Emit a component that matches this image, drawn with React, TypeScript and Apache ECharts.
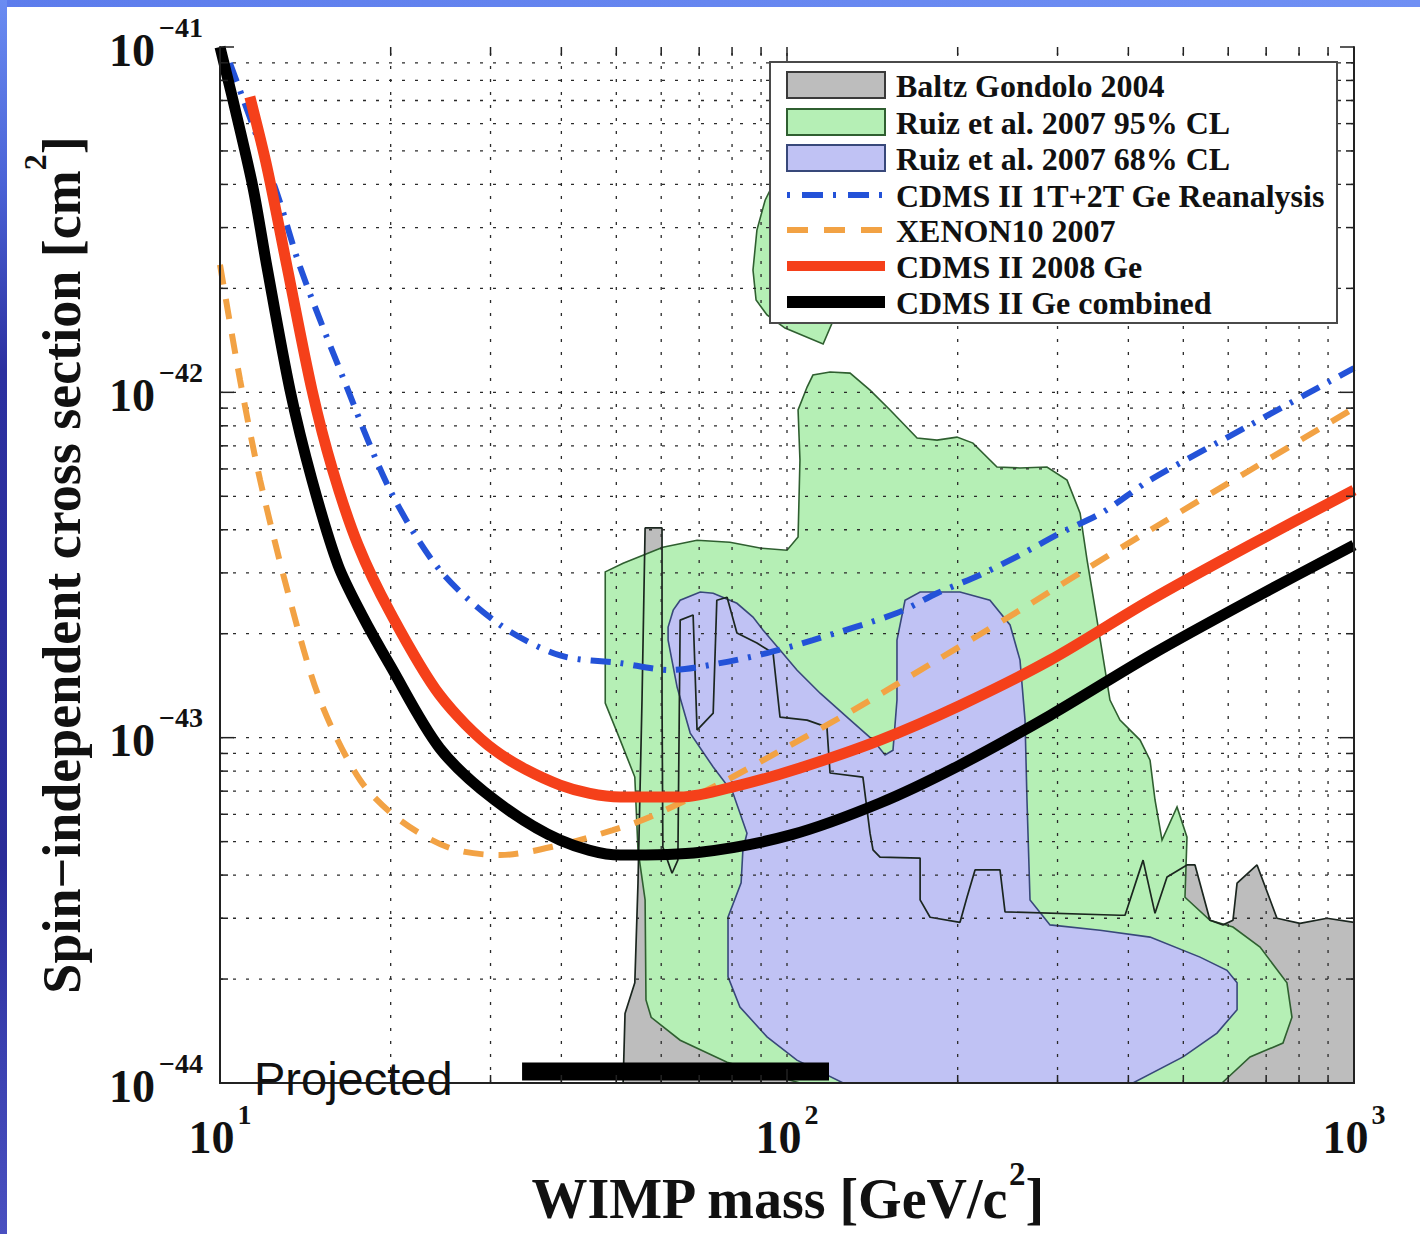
import React, { useEffect, useRef } from 'react';
import * as echarts from 'echarts';

const SERIF = '"Liberation Serif", "Times New Roman", serif';
const SANS = '"Liberation Sans", Arial, sans-serif';

const X_MIN = 10;
const X_MAX = 1000;
const Y_MIN = 1e-44;
const Y_MAX = 1e-41;

const xMajorTicks = [10, 100, 1000];
const xMinorTicks = [20, 30, 40, 50, 60, 70, 80, 90, 200, 300, 400, 500, 600, 700, 800, 900];
const yMajorTicks = [1e-44, 1e-43, 1e-42, 1e-41];
const yMinorTicks = [
  2e-44, 3e-44, 4e-44, 5e-44, 6e-44, 7e-44, 8e-44, 9e-44,
  2e-43, 3e-43, 4e-43, 5e-43, 6e-43, 7e-43, 8e-43, 9e-43,
  2e-42, 3e-42, 4e-42, 5e-42, 6e-42, 7e-42, 8e-42, 9e-42,
];
const yTickExponents = ['\u221244', '\u221243', '\u221242', '\u221241'];

const legendLabels = [
  'Baltz Gondolo 2004',
  'Ruiz et al. 2007 95% CL',
  'Ruiz et al. 2007 68% CL',
  'CDMS II 1T+2T Ge Reanalysis',
  'XENON10 2007',
  'CDMS II 2008 Ge',
  'CDMS II Ge combined',
];

// [WIMP mass (GeV/c^2), cross section (cm^2)]
const cdmsCombined = [
  [10, 1e-41], [10.54, 7.02e-42], [11.43, 3.93e-42], [12.1, 2.31e-42], [13.29, 1.015e-42],
  [14.53, 5.57e-43], [16.15, 3.16e-43], [17.8, 2.265e-43], [19.95, 1.62e-43], [24.4, 9.33e-44],
  [30.5, 6.6e-44], [39.8, 5.05e-44], [50.8, 4.57e-44], [70.3, 4.66e-44], [101.2, 5.22e-44],
  [145.9, 6.47e-44], [201.9, 8.33e-44], [291, 1.16e-43], [436.8, 1.73e-43], [655.6, 2.5e-43],
  [1000, 3.61e-43],
];
const cdms2008 = [
  [11.29, 7.17e-42], [12.1, 4.49e-42], [13.13, 2.31e-42], [14.53, 1.015e-42], [15.8, 5.96e-43],
  [17.52, 3.61e-43], [19.95, 2.31e-43], [24.4, 1.33e-43], [30.5, 9.2e-44], [39.8, 7.29e-44],
  [50.8, 6.73e-44], [64.8, 6.73e-44], [82.6, 7.29e-44], [105.4, 8.17e-44], [145.9, 9.84e-44],
  [201.9, 1.24e-43], [291, 1.677e-43], [436.8, 2.5e-43], [655.6, 3.61e-43], [1000, 5.21e-43],
];
const cdmsReanalysis = [
  [10.41, 8.99e-42], [12.6, 3.78e-42], [13.84, 2.31e-42], [16.28, 1.16e-42], [19.95, 5.21e-43],
  [24.4, 3.06e-43], [31.2, 2.12e-43], [39.8, 1.73e-43], [50.8, 1.644e-43], [62.2, 1.57e-43],
  [76.2, 1.644e-43], [92.2, 1.758e-43], [111.1, 1.917e-43], [156.3, 2.296e-43], [183.9, 2.62e-43],
  [218.9, 2.96e-43], [257.6, 3.38e-43], [303, 3.91e-43], [360.8, 4.5e-43], [436.8, 5.57e-43],
  [655.6, 8.04e-43], [1000, 1.176e-42],
];
const xenon10 = [
  [10, 2.34e-42], [10.85, 1.085e-42], [11.77, 5.57e-43], [13.29, 2.5e-43], [15.01, 1.285e-43],
  [17.66, 7.54e-44], [20.77, 5.77e-44], [25.44, 4.79e-44], [31.2, 4.57e-44], [39.8, 4.89e-44],
  [49.3, 5.4e-44], [57.3, 5.89e-44], [77.1, 7.44e-44], [100, 9.4e-44], [130.7, 1.2e-43],
  [150.1, 1.373e-43], [183.9, 1.677e-43], [257.6, 2.34e-43], [328.8, 3.0e-43], [436.8, 3.99e-43],
  [655.6, 5.95e-43], [1000, 9.0e-43],
];
const baltzGondoloEdge = [
  [51.4, 1.0e-44], [51.8, 1.59e-44], [53.9, 1.95e-44], [54.6, 3.79e-44], [55.5, 1.285e-43],
  [56.2, 4.05e-43], [60.2, 4.05e-43], [60.2, 1.285e-43], [60.4, 4.82e-44], [62.7, 4.05e-44],
  [64.2, 4.42e-44], [64.8, 2.19e-43], [68.3, 2.265e-43], [69.4, 1.052e-43], [74.1, 1.178e-43],
  [75.2, 2.5e-43], [78.4, 2.55e-43], [81.6, 2.01e-43], [88.5, 1.88e-43], [94.5, 1.758e-43],
  [97.2, 1.147e-43], [108.5, 1.124e-43], [117.6, 1.073e-43], [119.1, 7.9e-44], [136.1, 7.69e-44],
  [140.1, 5.29e-44], [141.8, 4.73e-44], [145.9, 4.51e-44], [171.7, 4.48e-44], [171.7, 3.39e-44],
  [178.8, 3.02e-44], [201.9, 2.92e-44], [207.7, 3.45e-44], [214.6, 4.14e-44], [237.5, 4.14e-44],
  [242.4, 3.13e-44], [386.6, 3.06e-44], [394.6, 3.06e-44], [424.6, 4.42e-44], [445.7, 3.1e-44],
  [468, 3.95e-44], [507.5, 4.28e-44], [524.3, 4.28e-44], [557.2, 2.96e-44], [587.5, 2.87e-44],
  [611.7, 2.96e-44], [622, 3.79e-44], [674.5, 4.28e-44], [731.4, 3.0e-44], [803, 2.9e-44],
  [896.2, 3.0e-44], [1000, 2.92e-44],
];
const ruiz95Main = [
  [47.8, 3.02e-43], [51.4, 3.2e-43], [60.4, 3.56e-43], [69.4, 3.73e-43], [79.3, 3.68e-43],
  [89.6, 3.54e-43], [100, 3.49e-43], [104.6, 3.81e-43], [105.4, 6.37e-43], [104.6, 8.89e-43],
  [108.5, 1.036e-42], [111.1, 1.122e-42], [119.1, 1.145e-42], [129.2, 1.137e-42], [140.1, 1.015e-42],
  [152, 8.89e-43], [169.6, 7.37e-43], [183.9, 7.27e-43], [199.4, 7.42e-43], [212.8, 7.13e-43],
  [234.6, 6.08e-43], [257.6, 6.04e-43], [287.4, 6.08e-43], [311.8, 5.57e-43], [328.8, 4.47e-43],
  [338.2, 3.27e-43], [352.2, 2.19e-43], [371.2, 1.285e-43], [386.6, 1.124e-43], [419.5, 9.84e-44],
  [436.8, 8.61e-44], [445.7, 6.6e-44], [458.6, 5.05e-44], [487.4, 6.3e-44], [507.5, 5.15e-44],
  [503.4, 3.45e-44], [557.2, 2.96e-44], [611.7, 2.83e-44], [682.8, 2.475e-44], [761.6, 1.95e-44],
  [777.3, 1.55e-44], [749.4, 1.305e-44], [655.6, 1.19e-44], [585, 1.0e-44], [105.4, 1.0e-44],
  [78.4, 1.149e-44], [64.8, 1.33e-44], [57.6, 1.55e-44], [56.4, 1.74e-44], [56.2, 3.39e-44],
  [54.6, 4.73e-44], [53.9, 7.69e-44], [50.8, 9.84e-44], [47.8, 1.26e-43],
];
const ruiz95Upper = [
  [95.3, 4.12e-42], [91.5, 3.6e-42], [88.5, 2.95e-42], [87.1, 2.26e-42], [88.2, 1.85e-42],
  [92.2, 1.675e-42], [99.2, 1.535e-42], [115.8, 1.38e-42], [120.1, 1.587e-42], [124.1, 1.98e-42],
  [105.4, 3.6e-42], [100, 4.12e-42],
];
const ruiz68 = [
  [61.7, 2.09e-43], [63.0, 2.34e-43], [64.8, 2.5e-43], [70.3, 2.64e-43], [74.1, 2.62e-43],
  [81.6, 2.45e-43], [87.1, 2.235e-43], [90.7, 2.05e-43], [97.2, 1.793e-43], [104.1, 1.57e-43],
  [114.4, 1.345e-43], [127.6, 1.147e-43], [141.8, 9.84e-44], [148.9, 8.91e-44], [153.8, 9.2e-44],
  [156.3, 1.285e-43], [156.3, 1.917e-43], [161.5, 2.5e-43], [171.7, 2.64e-43], [201.9, 2.64e-43],
  [228, 2.5e-43], [247.4, 2.12e-43], [257.6, 1.677e-43], [262.9, 1.124e-43], [265, 6.6e-44],
  [268.3, 3.39e-44], [291, 2.87e-44], [356.5, 2.77e-44], [436.8, 2.645e-44], [535.1, 2.315e-44],
  [597, 2.12e-44], [622, 1.95e-44], [622, 1.63e-44], [573.3, 1.395e-44], [499.4, 1.19e-44],
  [407.5, 1.0e-44], [125.6, 1.0e-44], [104.1, 1.165e-44], [92.2, 1.36e-44], [82.6, 1.66e-44],
  [78.7, 2.03e-44], [78.7, 3.02e-44], [83, 3.8e-44], [83.6, 4.73e-44], [85.0, 5.29e-44],
  [80.3, 6.91e-44], [74.1, 8.22e-44], [67.5, 1.031e-43], [64.0, 1.401e-43], [61.7, 1.917e-43],
];
const projectedRange = [[34.1, 1.08e-44], [118.6, 1.08e-44]];

const GRAY_FILL = '#bdbdbd';
const GREEN_FILL = '#b5efb5';
const GREEN_EDGE = '#2f5f30';
const BLUE_FILL = '#c0c2f4';
const BLUE_EDGE = '#38487a';
const C_BLUE = '#2352d8';
const C_ORANGE = '#f2a244';
const C_RED = '#f5401a';
const C_BLACK = '#000000';
const DASHDOT = [20, 10, 3, 10];
const DASH = [20, 15];

function expLabel(v: number) {
  const e = Math.round(Math.log10(v));
  const s = e < 0 ? '\u2212' + Math.abs(e) : String(e);
  return '{b|10}{s|' + s + '}';
}

const labelRich = {
  b: { fontFamily: SERIF, fontWeight: 'bold', fontSize: 46, color: '#111', lineHeight: 60, verticalAlign: 'bottom' },
  s: { fontFamily: SERIF, fontWeight: 'bold', fontSize: 28, color: '#111', verticalAlign: 'top', padding: [0, 0, 0, 3] },
};
const xNameRich = {
  t: { fontFamily: SERIF, fontWeight: 'bold', fontSize: 56, fill: '#111', color: '#111', lineHeight: 70, verticalAlign: 'bottom' },
  s: { fontFamily: SERIF, fontWeight: 'bold', fontSize: 33, fill: '#111', color: '#111', verticalAlign: 'top' },
};
const yNameRich = {
  t: { fontFamily: SERIF, fontWeight: 'bold', fontSize: 54, fill: '#111', color: '#111', lineHeight: 70, verticalAlign: 'bottom' },
  s: { fontFamily: SERIF, fontWeight: 'bold', fontSize: 32, fill: '#111', color: '#111', verticalAlign: 'top' },
};

function regionSeries(name: string, polys: number[][][], fill: string, stroke: string | null, z: number) {
  return {
    type: 'custom',
    name,
    z,
    silent: true,
    coordinateSystem: 'cartesian2d',
    data: [polys[0][0]],
    renderItem: (_p: any, api: any) => ({
      type: 'group',
      children: polys.map((poly) => ({
        type: 'polygon',
        shape: { points: poly.map((pt) => api.coord(pt)) },
        style: stroke ? { fill, stroke, lineWidth: 1.6 } : { fill, lineWidth: 0 },
      })),
    }),
  };
}

function curveSeries(name: string, data: number[][], color: string, width: number, type: any, z: number) {
  return {
    type: 'line',
    name,
    data,
    z,
    silent: true,
    smooth: 0.3,
    showSymbol: false,
    symbol: 'none',
    lineStyle: { color, width, type, cap: 'butt' },
  };
}

export default function App() {
  const ref = useRef<HTMLDivElement>(null);

  useEffect(() => {
    if (!ref.current) return;
    const chart = echarts.init(ref.current, undefined, { renderer: 'svg' });

    const xGrid = [...xMinorTicks, 100];
    const yGrid = [...yMinorTicks, 1e-43, 1e-42];
    const xTicks = [...xMajorTicks, ...xMinorTicks];
    const yTicks = [...yMajorTicks, ...yMinorTicks];

    const gridLineStyle = { stroke: '#2a2a2a', lineWidth: 1.3, lineDash: [3, 10] };
    const tickStyle = { stroke: '#222', lineWidth: 1.5 };
    const axisLineStyle = { color: '#222', width: 2 };

    const option: any = {
      animation: false,
      backgroundColor: '#ffffff',
      grid: { left: 220, top: 47, right: 66, bottom: 151, containLabel: false, outerBoundsMode: 'none' },
      xAxis: [
        {
          type: 'log', logBase: 10, min: X_MIN, max: X_MAX, splitNumber: 2, position: 'bottom', z: 11,
          axisLine: { show: true, lineStyle: axisLineStyle },
          axisTick: { show: false }, minorTick: { show: false }, splitLine: { show: false },
          axisLabel: { formatter: expLabel, rich: labelRich, margin: 17 },
        },
        {
          type: 'log', logBase: 10, min: X_MIN, max: X_MAX, splitNumber: 2, position: 'top', z: 11,
          axisLine: { show: true, lineStyle: axisLineStyle },
          axisTick: { show: false }, splitLine: { show: false }, axisLabel: { show: false },
        },
      ],
      yAxis: [
        {
          type: 'log', logBase: 10, min: Y_MIN, max: Y_MAX, splitNumber: 3, position: 'left', z: 11,
          axisLine: { show: true, lineStyle: axisLineStyle },
          axisTick: { show: false }, minorTick: { show: false }, splitLine: { show: false },
          axisLabel: { show: false },
        },
        {
          type: 'log', logBase: 10, min: Y_MIN, max: Y_MAX, splitNumber: 3, position: 'right', z: 11,
          axisLine: { show: true, lineStyle: axisLineStyle },
          axisTick: { show: false }, splitLine: { show: false }, axisLabel: { show: false },
        },
      ],
      series: [
        regionSeries(legendLabels[0], [[...baltzGondoloEdge, [X_MAX, Y_MIN]]], GRAY_FILL, null, 1),
        regionSeries(legendLabels[1], [ruiz95Main, ruiz95Upper], GREEN_FILL, GREEN_EDGE, 2),
        regionSeries(legendLabels[2], [ruiz68], BLUE_FILL, BLUE_EDGE, 3),
        {
          type: 'line', name: 'Baltz Gondolo edge', data: baltzGondoloEdge, z: 4, silent: true,
          showSymbol: false, symbol: 'none', lineStyle: { color: '#1b261f', width: 1.7 },
        },
        {
          type: 'custom', name: 'xgrid', z: 5, silent: true,
          data: xGrid.map((v) => [v, Y_MIN]),
          renderItem: (_p: any, api: any) => {
            const v = api.value(0);
            const a = api.coord([v, Y_MIN]);
            const b = api.coord([v, Y_MAX]);
            return { type: 'line', shape: { x1: a[0], y1: a[1], x2: b[0], y2: b[1] }, style: gridLineStyle };
          },
        },
        {
          type: 'custom', name: 'ygrid', z: 5, silent: true,
          data: yGrid.map((v) => [X_MIN, v]),
          renderItem: (_p: any, api: any) => {
            const v = api.value(1);
            const a = api.coord([X_MIN, v]);
            const b = api.coord([X_MAX, v]);
            return { type: 'line', shape: { x1: a[0], y1: a[1], x2: b[0], y2: b[1] }, style: gridLineStyle };
          },
        },
        curveSeries(legendLabels[3], cdmsReanalysis, C_BLUE, 6, DASHDOT, 6),
        curveSeries(legendLabels[4], xenon10, C_ORANGE, 6, DASH, 7),
        curveSeries(legendLabels[5], cdms2008, C_RED, 11, 'solid', 8),
        curveSeries(legendLabels[6], cdmsCombined, C_BLACK, 11, 'solid', 9),
        {
          type: 'line', name: 'Projected', data: projectedRange, z: 10, silent: true,
          showSymbol: false, symbol: 'none', lineStyle: { color: '#000', width: 18, cap: 'butt' },
        },
        {
          type: 'custom', name: 'xticks', z: 12, silent: true,
          data: xTicks.map((v) => [v, Y_MIN]),
          renderItem: (_p: any, api: any) => {
            const v = api.value(0);
            const len = xMajorTicks.includes(v) ? 14 : 8;
            const a = api.coord([v, Y_MIN]);
            const b = api.coord([v, Y_MAX]);
            return {
              type: 'group',
              children: [
                { type: 'line', shape: { x1: a[0], y1: a[1], x2: a[0], y2: a[1] - len }, style: tickStyle },
                { type: 'line', shape: { x1: b[0], y1: b[1], x2: b[0], y2: b[1] + len }, style: tickStyle },
              ],
            };
          },
        },
        {
          type: 'custom', name: 'yticks', z: 12, silent: true,
          data: yTicks.map((v) => [X_MIN, v]),
          renderItem: (_p: any, api: any) => {
            const v = api.value(1);
            const len = yMajorTicks.includes(v) ? 14 : 8;
            const a = api.coord([X_MIN, v]);
            const b = api.coord([X_MAX, v]);
            return {
              type: 'group',
              children: [
                { type: 'line', shape: { x1: a[0], y1: a[1], x2: a[0] + len, y2: a[1] }, style: tickStyle },
                { type: 'line', shape: { x1: b[0], y1: b[1], x2: b[0] - len, y2: b[1] }, style: tickStyle },
              ],
            };
          },
        },
      ],
    };

    chart.setOption(option);

    // ---- graphic overlay: frame strips, legend, y labels, axis titles, annotation ----
    const G: any[] = [];
    G.push({
      type: 'rect', z: 200, shape: { x: 0, y: 0, width: 1420, height: 7 },
      style: { fill: new echarts.graphic.LinearGradient(0, 0, 1, 0, [
        { offset: 0, color: '#5c7cec' }, { offset: 1, color: '#7090f4' },
      ]) },
    });
    G.push({
      type: 'rect', z: 200, shape: { x: 0, y: 0, width: 7, height: 1234 },
      style: { fill: new echarts.graphic.LinearGradient(0, 0, 0, 1, [
        { offset: 0, color: '#6a8cf2' }, { offset: 0.15, color: '#4a62d6' },
        { offset: 0.3, color: '#2c30a0' }, { offset: 0.7, color: '#2a2c98' },
        { offset: 0.85, color: '#3a40b0' }, { offset: 1, color: '#4a50c0' },
      ]) },
    });

    // legend
    const legendRowY = [85, 122, 158, 195, 230, 266, 302];
    const swX0 = 787;
    const swX1 = 885;
    G.push({ type: 'rect', z: 100, shape: { x: 770, y: 62, width: 567, height: 261 }, style: { fill: '#fff', stroke: '#4a4a4a', lineWidth: 2 } });
    const rectFills = [
      [GRAY_FILL, '#3a3a3a'],
      [GREEN_FILL, GREEN_EDGE],
      [BLUE_FILL, BLUE_EDGE],
    ];
    rectFills.forEach(([f, s], i) => {
      G.push({
        type: 'rect', z: 101,
        shape: { x: swX0, y: legendRowY[i] - 13, width: swX1 - swX0, height: 26 },
        style: { fill: f, stroke: s, lineWidth: 2 },
      });
    });
    const lineKeys: any[] = [
      [C_BLUE, 6, [3, 12, 21, 10]],
      [C_ORANGE, 6, [21, 16]],
      [C_RED, 10, null],
      [C_BLACK, 12, null],
    ];
    lineKeys.forEach(([c, w, d], i) => {
      const y = legendRowY[i + 3];
      G.push({
        type: 'line', z: 101,
        shape: { x1: swX0, y1: y, x2: swX1, y2: y },
        style: d ? { stroke: c, lineWidth: w, lineDash: d } : { stroke: c, lineWidth: w },
      });
    });
    legendLabels.forEach((t, i) => {
      G.push({
        type: 'text', z: 101, x: 896, y: legendRowY[i] + 1,
        style: { text: t, fontFamily: SERIF, fontWeight: 'bold', fontSize: 32, fill: '#111', align: 'left', verticalAlign: 'middle' },
      });
    });

    // y-axis tick labels (positions from the y scale)
    yMajorTicks.forEach((v, i) => {
      const py = chart.convertToPixel({ yAxisIndex: 0 }, v) as number;
      G.push({
        type: 'text', z: 50, x: 155, y: py + 3,
        style: { text: '10', fontFamily: SERIF, fontWeight: 'bold', fontSize: 46, fill: '#111', align: 'right', verticalAlign: 'middle' },
      });
      G.push({
        type: 'text', z: 50, x: 159, y: py - 20,
        style: { text: yTickExponents[i], fontFamily: SERIF, fontWeight: 'bold', fontSize: 28, fill: '#111', align: 'left', verticalAlign: 'middle' },
      });
    });

    // axis titles, centred on their axes
    const yTop = chart.convertToPixel({ yAxisIndex: 0 }, Y_MAX) as number;
    const yBot = chart.convertToPixel({ yAxisIndex: 0 }, Y_MIN) as number;
    const xLeft = chart.convertToPixel({ xAxisIndex: 0 }, X_MIN) as number;
    const xRight = chart.convertToPixel({ xAxisIndex: 0 }, X_MAX) as number;
    G.push({
      type: 'text', z: 50, x: 54, y: (yTop + yBot) / 2, rotation: Math.PI / 2,
      style: {
        text: '{t|Spin\u2212independent cross section [cm}{s|2}{t|]}',
        rich: yNameRich, align: 'center', verticalAlign: 'middle',
      },
    });
    G.push({
      type: 'text', z: 50, x: (xLeft + xRight) / 2, y: 1192,
      style: {
        text: '{t|WIMP mass [GeV/c}{s|2}{t|]}',
        rich: xNameRich, align: 'center', verticalAlign: 'middle',
      },
    });

    G.push({
      type: 'text', z: 100, x: 254, y: 1078,
      style: { text: 'Projected', fontFamily: SANS, fontSize: 47, fill: '#111', align: 'left', verticalAlign: 'middle' },
    });

    chart.setOption({ graphic: G });
    return () => chart.dispose();
  }, []);

  return (
    <div
      ref={ref}
      style={{ position: 'absolute', left: 0, top: 0, width: 1420, height: 1234, background: '#fff' }}
    />
  );
}
